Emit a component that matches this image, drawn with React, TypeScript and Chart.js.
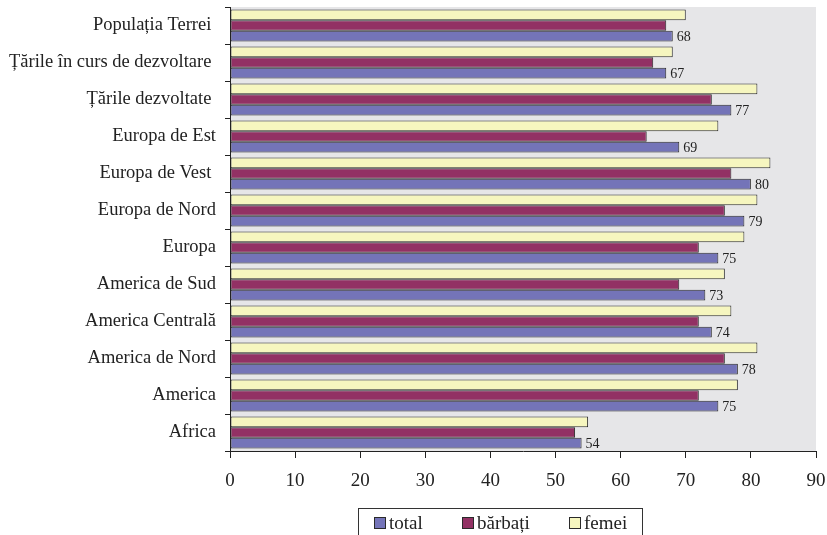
import React, { useEffect, useRef } from "react";
import { Chart, registerables } from "chart.js";

Chart.register(...registerables);

// Speranța de viață la naștere (ani), pe regiuni
const regions = [
  "Populația Terrei ",
  "Țările în curs de dezvoltare ",
  "Țările dezvoltate ",
  "Europa de Est",
  "Europa de Vest ",
  "Europa de Nord",
  "Europa",
  "America de Sud",
  "America Centrală",
  "America de Nord",
  "America",
  "Africa",
];
const femei = [70, 68, 81, 75, 83, 81, 79, 76, 77, 81, 78, 55];
const barbati = [67, 65, 74, 64, 77, 76, 72, 69, 72, 76, 72, 53];
const total = [68, 67, 77, 69, 80, 79, 75, 73, 74, 78, 75, 54];
const xTicks = [0, 10, 20, 30, 40, 50, 60, 70, 80, 90];

const seriesNames = { total: "total", barbati: "bărbați", femei: "femei" };
const colors = {
  femei: "#f6f6bf",
  barbati: "#923164",
  total: "#7474b8",
  outline: "#2a2a2a",
  plot: "#e6e6e8",
  text: "#222222",
};

const FONT = "'Liberation Serif', 'Times New Roman', serif";

// Grey plot background behind the bars
const plotBackground = {
  id: "plotBackground",
  beforeDraw(chart: any) {
    const { ctx, chartArea: a } = chart;
    ctx.save();
    ctx.fillStyle = colors.plot;
    ctx.fillRect(a.left, a.top, a.right - a.left, a.bottom - a.top);
    ctx.restore();
  },
};

// Value labels to the right of the "total" bars
const totalLabels = {
  id: "totalLabels",
  afterDatasetsDraw(chart: any) {
    const { ctx } = chart;
    const idx = chart.data.datasets.findIndex((d: any) => d.label === seriesNames.total);
    const meta = chart.getDatasetMeta(idx);
    const values = chart.data.datasets[idx].data as number[];
    ctx.save();
    ctx.font = `14px ${FONT}`;
    ctx.fillStyle = colors.text;
    ctx.textAlign = "left";
    ctx.textBaseline = "middle";
    meta.data.forEach((bar: any, i: number) => {
      ctx.fillText(String(values[i]), bar.x + 4, bar.y + 1);
    });
    ctx.restore();
  },
};

// Boxed legend below the axis: total, bărbați, femei
const boxedLegend = {
  id: "boxedLegend",
  afterDraw(chart: any) {
    const { ctx } = chart;
    const order = [seriesNames.total, seriesNames.barbati, seriesNames.femei];
    const swatchX = [374, 462, 569];
    ctx.save();
    ctx.fillStyle = "#ffffff";
    ctx.strokeStyle = "#333333";
    ctx.lineWidth = 1;
    ctx.fillRect(358.5, 508.5, 284, 40);
    ctx.strokeRect(358.5, 508.5, 284, 40);
    ctx.font = `19px ${FONT}`;
    ctx.textAlign = "left";
    ctx.textBaseline = "middle";
    order.forEach((name, i) => {
      const ds = chart.data.datasets.find((d: any) => d.label === name);
      ctx.fillStyle = ds.backgroundColor;
      ctx.fillRect(swatchX[i] + 0.5, 517.5, 11, 11);
      ctx.strokeStyle = colors.outline;
      ctx.strokeRect(swatchX[i] + 0.5, 517.5, 11, 11);
      ctx.fillStyle = colors.text;
      ctx.fillText(name, swatchX[i] + 15, 524);
    });
    ctx.restore();
  },
};

export default function App() {
  const canvasRef = useRef<HTMLCanvasElement | null>(null);

  useEffect(() => {
    if (!canvasRef.current) return;
    const barStyle = { borderColor: colors.outline, borderWidth: 1, borderSkipped: false };
    const chart = new Chart(canvasRef.current, {
      type: "bar",
      data: {
        labels: regions,
        datasets: [
          { label: seriesNames.femei, data: femei, backgroundColor: colors.femei, ...barStyle },
          { label: seriesNames.barbati, data: barbati, backgroundColor: colors.barbati, ...barStyle },
          { label: seriesNames.total, data: total, backgroundColor: colors.total, ...barStyle },
        ],
      },
      options: {
        indexAxis: "y",
        animation: false,
        responsive: false,
        devicePixelRatio: 1,
        layout: { padding: { top: 7, right: 11, left: 0, bottom: 44 } },
        datasets: { bar: { categoryPercentage: 0.86, barPercentage: 1 } },
        plugins: {
          legend: { display: false },
          tooltip: { enabled: false },
        },
        scales: {
          x: {
            min: 0,
            max: 90,
            afterFit(scale: any) {
              scale.height = 40;
              scale.paddingLeft = 0;
              scale.paddingRight = 0;
            },
            afterBuildTicks(scale: any) {
              scale.ticks = xTicks.map((v) => ({ value: v }));
            },
            grid: {
              drawOnChartArea: false,
              drawTicks: true,
              tickLength: 7,
              color: colors.text,
            },
            border: { display: true, color: colors.text, width: 1 },
            ticks: {
              color: colors.text,
              padding: 12,
              font: { family: FONT, size: 19 },
            },
          },
          y: {
            afterFit(scale: any) {
              scale.width = 230;
              scale.paddingTop = 0;
              scale.paddingBottom = 0;
            },
            grid: {
              offset: true,
              drawOnChartArea: false,
              drawTicks: true,
              tickLength: 5,
              color: colors.text,
            },
            border: { display: true, color: colors.text, width: 1 },
            ticks: {
              color: colors.text,
              padding: 9,
              autoSkip: false,
              font: { family: FONT, size: 18.5 },
            },
          },
        },
      },
      plugins: [plotBackground, totalLabels, boxedLegend],
    });
    return () => chart.destroy();
  }, []);

  return (
    <div style={{ position: "fixed", left: 0, top: 0, width: 827, height: 535, background: "#ffffff" }}>
      <canvas ref={canvasRef} width={827} height={535} style={{ display: "block" }} />
    </div>
  );
}
